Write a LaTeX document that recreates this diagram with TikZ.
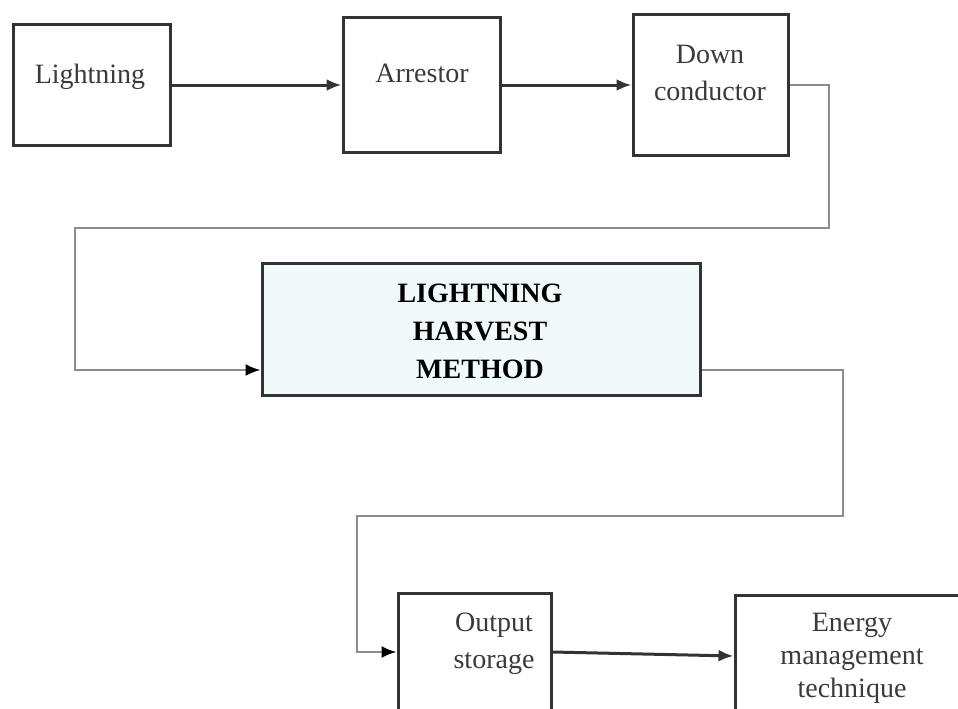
\documentclass[tikz,border=0pt]{standalone}
\usepackage{fontspec}
\setmainfont{Liberation Serif}
\usepackage{tikz}
\usetikzlibrary{arrows.meta}

\definecolor{boxline}{HTML}{333333}
\definecolor{feedline}{HTML}{8C8C8C}
\definecolor{methodfill}{HTML}{F1FAFA}
\definecolor{txtgray}{HTML}{3A3A3A}

\tikzset{
  block/.style={draw=boxline, line width=3pt, rectangle, inner sep=0pt},
  txt/.style={anchor=base, align=center, text=txtgray, inner sep=0pt,
    font=\fontsize{28}{37}\selectfont},
  flow/.style={line width=3pt, draw=boxline, -{Latex[length=15pt,width=12pt]}},
  feed/.style={line width=2.2pt, draw=feedline, -{Latex[length=15pt,width=12pt,color=black]}}
}

\begin{document}
\begin{tikzpicture}[x=1pt,y=-1pt]
          \useasboundingbox (0,0) rectangle (958,709);
          % top row
          \node[block, minimum width=157pt, minimum height=120pt] (light) at (91.5,85) {};
          \node[block, minimum width=157pt, minimum height=135pt] (arrest) at (421.5,85) {};
          \node[block, minimum width=155pt, minimum height=140pt] (down) at (710.5,85) {};
          \node[txt] (light-t) at (90,83) {Lightning};
          \node[txt] (arrest-t) at (422,82) {Arrestor};
          \node[txt] (down-t) at (710,100) {Down\\conductor};
          % middle box
          \node[block, fill=methodfill, minimum width=438pt, minimum height=132pt] (method) at (481,329) {};
          \node[txt, text=black, font=\fontsize{28}{38}\selectfont\bfseries] (method-t) at (480,378) {LIGHTNING\\HARVEST\\METHOD};
          % bottom row
          \node[block, minimum width=153pt, minimum height=118pt] (output) at (474.5,652) {};
          \node[block, minimum width=230pt, minimum height=122pt] (energy) at (850,656) {};
          \node[txt] (output-t) at (494,668) {Output\\storage};
          \node[txt, font=\fontsize{28}{33}\selectfont] (energy-t) at (852,697) {Energy\\management\\technique};
          % bend points
          \coordinate (b1) at (829,228);
          \coordinate (b2) at (75,370);
          \coordinate (b3) at (843,516);
          \coordinate (b4) at (357,652);
          % arrows
          \draw[flow] (light.east) -- (arrest.west);
          \draw[flow] (arrest.east) -- (down.west);
          \draw[feed] (down.east) -| (b1) -| (b2) -- (b2 -| method.west);
          \draw[feed] (b2 -| method.east) -- (b3 |- b2) -- (b3) -| (b4) -- (output.west);
          \draw[flow] (output.east) -- (energy.west);
        \end{tikzpicture}
\end{document}
